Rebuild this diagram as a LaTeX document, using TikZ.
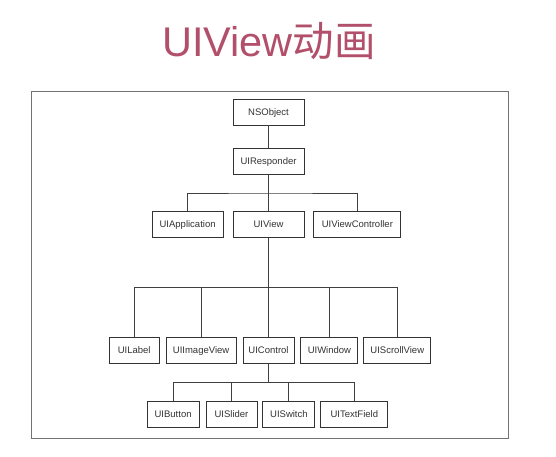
\documentclass[tikz,border=0pt]{standalone}
\usepackage{fontspec}
\setmainfont{Liberation Sans}
\newfontfamily\cjk{Noto Sans CJK SC}
\usepackage{tikz}
\usetikzlibrary{shapes,arrows}
\usetikzlibrary{calc,positioning}
\tikzstyle{link} = [draw=black!75, line width=0.9pt]
\tikzset{
    block/.style = {draw=black!80, line width=0.9pt, fill=white, rectangle, minimum height=26pt, minimum width=51pt, inner sep=2pt, text height=6.8pt, text depth=0pt, font=\fontsize{9.5}{11}\selectfont, text=black!80},
}
\usepackage{xcolor}
\definecolor{titlerose}{RGB}{178,80,108}

\begin{document}
\begin{tikzpicture}[auto, node distance=49.5pt]
    \useasboundingbox (0,0) rectangle (556pt,-457pt);
    \node [font=\fontsize{41.5}{44}\selectfont, text=titlerose, anchor=base] (title) at (269pt,-57pt) {UIView{\cjk 动画}};
    \draw [draw=black!55, line width=0.9pt] (31pt,-91pt) rectangle (508pt,-438pt);

    \node [block, minimum width=71pt] (nsobject) at (268.5pt,-112pt) {NSObject};
    \node [block, minimum width=71pt, below of=nsobject] (responder) {UIResponder};
    \node [block, minimum width=71pt, node distance=63pt, below of=responder] (view) {UIView};
    \node [block, minimum width=71pt, left=9pt of view] (application) {UIApplication};
    \node [block, minimum width=87pt, right=9pt of view] (viewcontroller) {UIViewController};

    \node [block, node distance=126pt, below of=view] (control) {UIControl};
    \node [block, minimum width=70pt, left=6pt of control] (imageview) {UIImageView};
    \node [block, minimum width=50pt, left=6pt of imageview] (label) {UILabel};
    \node [block, minimum width=57pt, right=6pt of control] (window) {UIWindow};
    \node [block, minimum width=67pt, right=5pt of window] (scrollview) {UIScrollView};

    \node [block] (slider) at ($(control)+(-37pt,-64pt)$) {UISlider};
    \node [block, minimum width=52pt, left=6pt of slider] (button) {UIButton};
    \node [block, minimum width=52pt, right=5pt of slider] (switch) {UISwitch};
    \node [block, minimum width=67pt, right=5pt of switch] (textfield) {UITextField};

    \draw [link] (nsobject) -- (responder);
    \draw [link] (responder) -- (view);
    \coordinate (bus1) at ($(responder.south)!0.5!(view.north)$);
    \draw [link] (application.north) |- (bus1) -| (viewcontroller.north);

    \coordinate (bus2) at ($(view.south)!0.5!(control.north)$);
    \draw [link] (view) -- (control);
    \draw [link] (label.north) |- (bus2) -| (scrollview.north);
    \draw [link] (imageview.north) -- (imageview.north |- bus2);
    \draw [link] (window.north) -- (window.north |- bus2);

    \coordinate (bus3) at ($(control.south)!0.5!(slider.north)$);
    \draw [link] (control.south) -- (control.south |- bus3);
    \draw [link] (button.north) |- (bus3) -| (textfield.north);
    \draw [link] (slider.north) -- (slider.north |- bus3);
    \draw [link] (switch.north) -- (switch.north |- bus3);
\end{tikzpicture}
\end{document}
